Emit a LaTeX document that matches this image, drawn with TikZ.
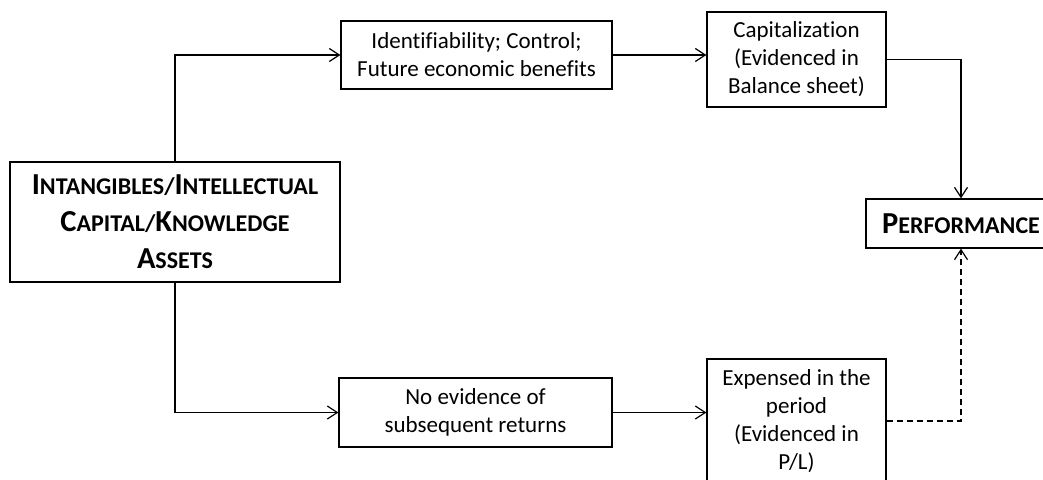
\documentclass[tikz,border=0pt]{standalone}
\usepackage{fontspec}
\setmainfont[Ligatures=NoCommon]{Carlito}
\usetikzlibrary{arrows.meta}
\newcommand{\capl}[1]{{\fontsize{30.5}{37}\selectfont #1}}
\begin{document}
\begin{tikzpicture}[x=1pt,y=-1pt]
                \tikzset{box/.style={draw, line width=1.2pt, align=center, inner sep=0pt,
                font=\fontsize{23}{28}\selectfont},
                 bigbox/.style={box, font=\fontsize{24}{37}\selectfont\bfseries},
                 link/.style={line width=1.2pt, -{Straight Barb[length=10pt,width=13pt,line width=1.2pt]}}}

                \useasboundingbox (0,0) rectangle (1043,479);

                \node[bigbox, minimum width=330pt, minimum height=120pt] (intang) at (175,222)
                    {\capl{I}NTANGIBLES/\capl{I}NTELLECTUAL\\ \capl{C}APITAL/\capl{K}NOWLEDGE\\ \capl{A}SSETS};
                \node[box, minimum width=271pt, minimum height=68pt] (ident) at (476.5,55)
                    {Identifiability; Control;\\ Future economic benefits};
                \node[box, minimum width=179pt, minimum height=95pt] (capit) at (796.5,59.5)
                    {Capitalization\\ (Evidenced in\\ Balance sheet)};
                \node[bigbox, minimum width=190pt, minimum height=49pt] (perf) at (961,223.5)
                    {\capl{P}ERFORMANCE};
                \node[box, minimum width=273pt, minimum height=69pt] (noevid) at (475.5,412.5)
                    {No evidence of\\ subsequent returns};
                \node[box, minimum width=179pt, minimum height=124pt] (expens) at (796.5,421)
                    {Expensed in the\\ period\\ (Evidenced in\\ P/L)};

                \draw[link] (intang.north) |- (ident.west);
                \draw[link] (intang.south) |- (noevid.west);
                \draw[link] (ident.east) -- (ident.east -| capit.west);
                \draw[link] (noevid.east) -- (noevid.east -| expens.west);
                \draw[link] (capit.east) -| (perf.north);
                \draw[link, dash pattern=on 6pt off 4pt] (expens.east) -| (perf.south);
\end{tikzpicture}
\end{document}
